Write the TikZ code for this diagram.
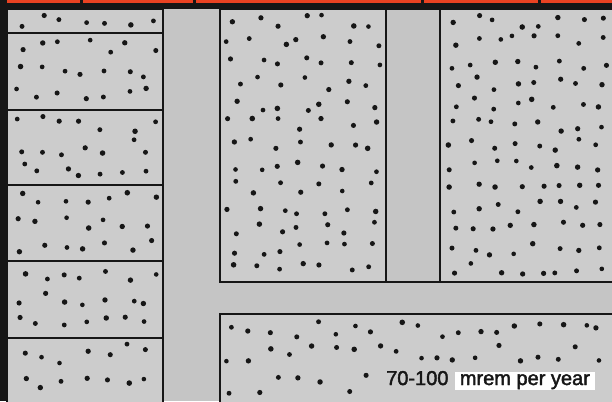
\documentclass[tikz,border=0pt]{standalone}
\usepackage{fontspec}
\setmainfont{Liberation Sans}
\newfontfamily\labelfont[FakeBold=2]{Liberation Sans}
\usepackage{tikz}
\usetikzlibrary{positioning}
\definecolor{streetgray}{RGB}{197,197,197}
\definecolor{blockgray}{RGB}{204,204,204}
\definecolor{bandred}{RGB}{234,66,34}
\definecolor{edgeblack}{RGB}{22,22,22}

% evenly scattered dots inside a block: x1, y1, x2, y2
\newcommand{\scatterdots}[4]{%
  \pgfmathtruncatemacro{\nx}{max(1,(#3-#1-4)/20.5)}
  \pgfmathtruncatemacro{\ny}{max(1,(#4-#2-4)/20.5)}
  \pgfmathsetmacro{\sx}{(#3-#1-4)/\nx}
  \pgfmathsetmacro{\sy}{(#4-#2-4)/\ny}
  \foreach \i in {1,...,\nx} {
    \foreach \j in {1,...,\ny} {
      \pgfmathsetmacro{\dx}{#1+2+(\i-1)*\sx+4+rnd*(\sx-8)}
      \pgfmathsetmacro{\dy}{#2+2+(\j-1)*\sy+4+rnd*(\sy-8)}
      \pgfmathsetmacro{\dr}{2.3+0.5*rnd}
      \fill[edgeblack] (\dx,\dy) circle[radius=\dr pt];
    }
  }}

\begin{document}
\begin{tikzpicture}[x=1pt, y=-1pt,
  block/.style={fill=blockgray, draw=edgeblack, line width=2.7pt},
  alley/.style={fill=streetgray, draw=edgeblack, line width=2.7pt},
  unitbox/.style={fill=white, font=\labelfont\fontsize{20}{24}\selectfont,
    inner xsep=5pt, inner ysep=0.5pt, text height=13pt, text depth=4pt}]

\useasboundingbox (0,0) rectangle (612,401);
\clip (0,0) rectangle (612,401);
\pgfmathsetseed{11}

% Streets
\fill[streetgray] (0,0) rectangle (612,401);

% Left column of blocks
\draw[block] (7,9) rectangle (163,33);
\draw[block] (7,33) rectangle (163,110);
\draw[block] (7,110) rectangle (163,185);
\draw[block] (7,185) rectangle (163,261);
\draw[block] (7,261) rectangle (163,338);
\draw[block] (7,338) rectangle (163,410);
\scatterdots{7}{9}{163}{33}
\scatterdots{7}{33}{163}{110}
\scatterdots{7}{110}{163}{185}
\scatterdots{7}{185}{163}{261}
\scatterdots{7}{261}{163}{338}
\scatterdots{7}{338}{163}{401}

% Middle and right blocks
\draw[block] (220,9) rectangle (386,282);
\draw[alley] (386,9) rectangle (440,282);
\draw[block] (440,9) rectangle (620,282);
\scatterdots{220}{9}{386}{282}
\scatterdots{440}{9}{614}{282}

% Bottom block
\draw[block] (220,314) rectangle (620,410);
\scatterdots{220}{314}{614}{368}
\scatterdots{220}{368}{382}{401}

% Top band
\fill[edgeblack] (0,0) rectangle (612,9);
\fill[bandred] (7,0) rectangle (80,3);
\fill[bandred] (83,0) rectangle (193,3);
\fill[bandred] (196,0) rectangle (421,3);
\fill[bandred] (424,0) rectangle (538,3);
\fill[bandred] (541,0) rectangle (612,3);

% Left strip
\fill[edgeblack] (0,0) rectangle (6,401);

% Dose label
\node[anchor=base west, inner sep=0pt, font=\labelfont\fontsize{20}{24}\selectfont,
  text=edgeblack] (dose) at (386,385) {70-100};
\node[unitbox, anchor=base west, text=edgeblack]
  (unit) at ([xshift=6pt]dose.base east) {mrem per year};

\end{tikzpicture}
\end{document}
